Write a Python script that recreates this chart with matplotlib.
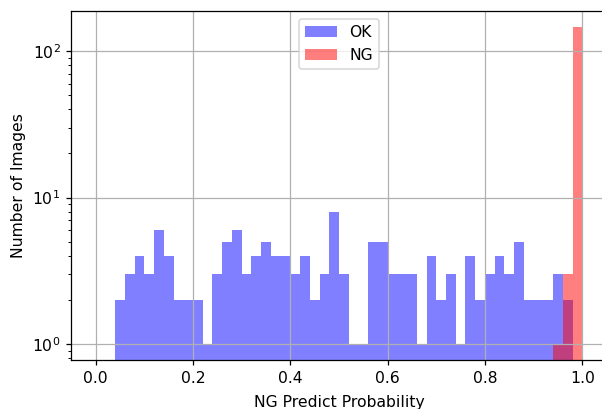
import numpy as np
import matplotlib
matplotlib.use('Agg')
import matplotlib.pyplot as plt

# histogram bin edges (50 bins over [0, 1])
binEdges = np.linspace(0.0, 1.0, 51)

# counts per bin
okCounts = [0, 0, 2, 3, 4, 3, 6, 4, 2, 2,
            2, 1, 3, 5, 6, 3, 4, 5, 4, 4,
            3, 4, 2, 3, 8, 3, 1, 1, 5, 5,
            3, 3, 3, 1, 4, 2, 3, 1, 4, 2,
            3, 4, 3, 5, 2, 2, 2, 3, 2, 0]
ngCounts = [0] * 47 + [1, 3, 146]

binCenters = (binEdges[:-1] + binEdges[1:]) / 2

DPI = 112.5
fig = plt.figure(figsize=(602 / DPI, 409 / DPI), dpi=DPI)
ax = fig.add_axes([0.1186, 0.1198, 0.889, 0.853])

ax.hist(binCenters, bins=binEdges, weights=okCounts, color='blue',
        alpha=0.5, label='OK', log=True)
ax.hist(binCenters, bins=binEdges, weights=ngCounts, color='red',
        alpha=0.5, label='NG', log=True)

ax.set_xlim(-0.05, 1.05)
ax.set_ylim(0.78, 187)
ax.set_xlabel('NG Predict Probability', labelpad=6)
ax.set_ylabel('Number of Images')
# grid drawn over the bars, as in the original
ax.grid(True)
ax.legend(loc='upper center')

fig.savefig('out.png', dpi=DPI)
plt.close()
